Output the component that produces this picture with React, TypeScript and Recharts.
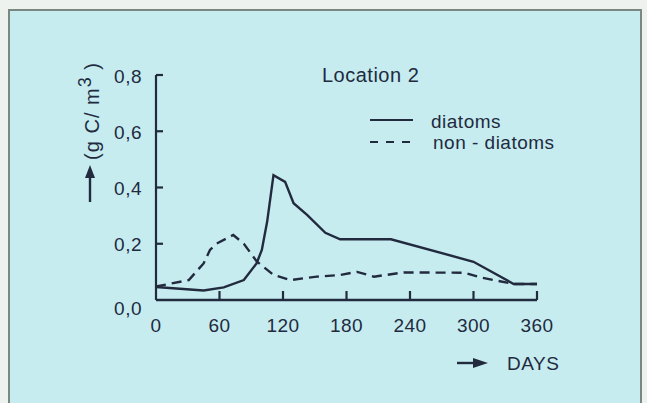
import React from 'react';
import { Legend, Line, LineChart, XAxis, YAxis } from 'recharts';

// values (days, g C / m3)
const diatomDays = [0, 45, 64, 83, 95, 100, 105, 111, 122, 130, 143, 160, 174, 222, 300, 338, 360];
const diatomValues = [0.046, 0.034, 0.045, 0.071, 0.13, 0.178, 0.278, 0.444, 0.42, 0.344, 0.302, 0.239, 0.216, 0.216, 0.136, 0.057, 0.057];

const nonDiatomDays = [0, 31, 45, 51, 57, 73, 83, 95, 111, 127, 152, 174, 190, 206, 234, 291, 307, 338, 360];
const nonDiatomValues = [0.048, 0.071, 0.13, 0.178, 0.2, 0.231, 0.2, 0.138, 0.089, 0.071, 0.083, 0.089, 0.1, 0.083, 0.098, 0.097, 0.08, 0.057, 0.057];

const dayTicks = [0, 60, 120, 180, 240, 300, 360];
const carbonTicks = [0, 0.2, 0.4, 0.6, 0.8];
const seriesNames = ['diatoms', 'non - diatoms'];
const chartTitle = 'Location 2';

const diatoms = diatomDays.map((day, i) => ({ day, value: diatomValues[i] }));
const nonDiatoms = nonDiatomDays.map((day, i) => ({ day, value: nonDiatomValues[i] }));

const INK = '#222a3e';
const FONT = '"Liberation Sans", Arial, Helvetica, sans-serif';
const textStyle = { fontFamily: FONT, fontSize: 19, fill: INK, letterSpacing: 0.5 };

const Y_MARGIN = 14;
const X_MARGIN = 8;

function YTick({ x, y, payload }: any) {
  const axisX = x + Y_MARGIN;
  const v = payload.value as number;
  return (
    <g>
      {v > 0 ? <line x1={axisX} x2={axisX + 7} y1={y} y2={y} stroke={INK} strokeWidth={2.2} /> : null}
      <text x={x} y={y + 7.5 + (v === 0 ? 7 : 0)} textAnchor="end" style={textStyle}>
        {v.toFixed(1).replace('.', ',')}
      </text>
    </g>
  );
}

function XTick({ x, y, payload }: any) {
  const axisY = y - X_MARGIN;
  const v = payload.value as number;
  return (
    <g>
      {v > 0 ? <line x1={x} x2={x} y1={axisY} y2={axisY - 9} stroke={INK} strokeWidth={2.2} /> : null}
      <text x={x} y={y + 24} textAnchor="middle" style={textStyle}>
        {v}
      </text>
    </g>
  );
}

function YTitle({ viewBox }: any) {
  const ax = viewBox.x + viewBox.width;
  const top = viewBox.y;
  const cx = ax - 64;
  const cy = top + 36;
  return (
    <g>
      <text transform={`translate(${cx + 7},${cy}) rotate(-90)`} textAnchor="middle" style={{ ...textStyle, fontSize: 20, letterSpacing: 1 }}>
        (g C/ m<tspan dy={-8} fontSize={18}>3</tspan><tspan dy={8}> )</tspan>
      </text>
      <line x1={cx - 2} x2={cx - 2} y1={top + 127} y2={top + 100} stroke={INK} strokeWidth={2.4} />
      <polygon points={`${cx - 2},${top + 90} ${cx - 7},${top + 103} ${cx + 3},${top + 103}`} fill={INK} />
    </g>
  );
}

function XTitle({ viewBox }: any) {
  const right = viewBox.x + viewBox.width;
  const axisY = viewBox.y;
  const ay = axisY + 63;
  return (
    <g>
      <line x1={right - 80} x2={right - 62} y1={ay} y2={ay} stroke={INK} strokeWidth={2.4} />
      <polygon points={`${right - 49},${ay} ${right - 64},${ay - 5} ${right - 64},${ay + 5}`} fill={INK} />
      <text x={right - 30} y={axisY + 70} style={textStyle}>DAYS</text>
    </g>
  );
}

function LegendBox({ payload }: any) {
  const items = payload ?? [];
  return (
    <svg width={647} height={403} style={{ position: 'absolute', left: 0, top: 0 }}>
      <text x={322} y={82} style={{ ...textStyle, fontSize: 20 }}>{chartTitle}</text>
      {items.map((item: any, i: number) => (
        <g key={item.value}>
          <line
            x1={370}
            x2={i === 0 ? 413 : 410}
            y1={120 + i * 22}
            y2={120 + i * 22}
            stroke={INK}
            strokeWidth={2.2}
            strokeDasharray={i === 0 ? undefined : '8 8'}
          />
          <text x={431 + i * 2} y={128 + i * 21} style={textStyle}>{item.value}</text>
        </g>
      ))}
    </svg>
  );
}

export default function App() {
  return (
    <div style={{ position: 'absolute', left: 0, top: 0, width: 647, height: 403, overflow: 'hidden', background: '#eef2ef' }}>
      <div
        style={{
          position: 'absolute',
          left: 8,
          top: 9,
          width: 630,
          height: 420,
          background: '#c6ecf0',
          borderLeft: '2px solid #7b887f',
          borderTop: '2px solid #7b887f',
          borderRight: '2px solid #7b887f',
        }}
      />
      <div style={{ position: 'absolute', left: 0, top: 0 }}>
        <LineChart width={647} height={403} margin={{ top: 75, right: 110, bottom: 73, left: 96 }}>
          <XAxis
            dataKey="day"
            type="number"
            domain={[0, 360]}
            ticks={dayTicks}
            allowDuplicatedCategory={false}
            height={30}
            tickSize={0}
            tickMargin={X_MARGIN}
            tick={<XTick />}
            axisLine={{ stroke: INK, strokeWidth: 2.6 }}
            label={{ content: <XTitle /> } as any}
          />
          <YAxis
            type="number"
            domain={[0, 0.8]}
            ticks={carbonTicks}
            width={60}
            tickSize={0}
            tickMargin={Y_MARGIN}
            tick={<YTick />}
            axisLine={{ stroke: INK, strokeWidth: 2.2 }}
            label={{ content: <YTitle /> } as any}
          />
          <Legend layout="horizontal" verticalAlign="middle" align="center" wrapperStyle={{ left: 0, top: 0, width: 647, height: 403 }} content={<LegendBox />} />
          <Line data={diatoms} dataKey="value" name={seriesNames[0]} type="linear" stroke={INK} strokeWidth={2.4} dot={false} isAnimationActive={false} />
          <Line data={nonDiatoms} dataKey="value" name={seriesNames[1]} type="linear" stroke={INK} strokeWidth={2.4} strokeDasharray="10 6" dot={false} isAnimationActive={false} />
        </LineChart>
      </div>
    </div>
  );
}
